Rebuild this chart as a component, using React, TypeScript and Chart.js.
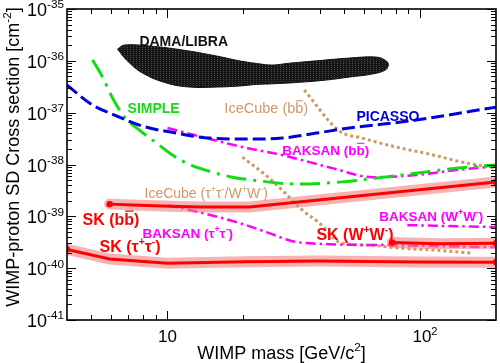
import { useEffect, useRef } from 'react';
import { Chart, registerables } from 'chart.js';

Chart.register(...registerables);

const FONT = '"Liberation Sans", Arial, Helvetica, sans-serif';

// ---- axes ----
const massMin = 4;
const massMax = 200;
const sigmaMin = 1e-41;
const sigmaMax = 1e-35;
const yTickExponents = [-41, -40, -39, -38, -37, -36, -35];
const xMajorTicks = [10, 100];
const xTickLabels = ['10', '10^{2}'];
const xMinorTicks = [5, 6, 7, 8, 9, 20, 30, 40, 50, 60, 70, 80, 90];
const xTitle = 'WIMP mass [GeV/c^{2}]';
const yTitle = 'WIMP-proton SD Cross section [cm^{-2}]';

// ---- data (mass in GeV/c^2, cross section in cm^2) ----
const damaMass = [6.34, 6.76, 8.49, 11.47, 15.63, 19.27, 22.5, 26.0, 30.4, 38.9, 52.5, 67.2, 73.6, 74.9, 72.9, 64.7, 52.5, 42.6, 33.3, 26.0, 22.5, 19.27, 15.63, 12.22, 9.91, 7.96, 6.88, 6.34];
const damaSigma = [1.69e-36, 2.02e-36, 1.93e-36, 1.62e-36, 1.24e-36, 1.0e-36, 8.9e-37, 8.3e-37, 9.0e-37, 1.0e-36, 1.13e-36, 1.18e-36, 9.9e-37, 8.3e-37, 6.64e-37, 5.56e-37, 4.86e-37, 4.26e-37, 3.85e-37, 3.6e-37, 3.5e-37, 3.27e-37, 3.12e-37, 3.12e-37, 3.73e-37, 5.81e-37, 1.035e-36, 1.69e-36];

const picassoMass = [4.0, 5.05, 6.17, 7.96, 10.85, 14.66, 21.7, 28.5, 38.9, 52.5, 96.6, 200];
const picassoSigma = [3.4e-37, 1.4e-37, 9.0e-38, 5.5e-38, 4.04e-38, 3.23e-38, 3.09e-38, 3.23e-38, 4.04e-38, 5.05e-38, 7.2e-38, 1.28e-37];

const simpleMass = [5.05, 5.53, 6.06, 6.76, 7.74, 9.05, 10.47, 12.4, 15.07, 18.1, 21.7, 33.3, 48.0, 67.1, 96.6, 139, 200];
const simpleSigma = [1.035e-36, 4.86e-37, 1.91e-37, 8.2e-38, 4.6e-38, 2.59e-38, 1.52e-38, 9.7e-39, 7.1e-39, 5.7e-39, 5.0e-39, 4.19e-39, 4.57e-39, 5.46e-39, 6.8e-39, 8.5e-39, 9.8e-39];

const baksanBBMass = [10, 13.75, 19.8, 28.5, 45.0, 64.7, 96.6, 139, 200];
const baksanBBSigma = [5.05e-38, 3.38e-38, 2.17e-38, 1.52e-38, 8.5e-39, 5.7e-39, 6.24e-39, 7.8e-39, 9.3e-39];

const baksanTauMass = [10, 13.4, 19.3, 25.3, 31.2, 43.7, 75.6, 119, 200];
const baksanTauSigma = [1.64e-39, 1.2e-39, 7.4e-40, 4.74e-40, 3.32e-40, 2.9e-40, 2.78e-40, 2.66e-40, 2.54e-40];

const baksanWWMass = [89.1, 130, 200];
const baksanWWSigma = [6.76e-40, 6.5e-40, 6.2e-40];

const iceBBMass = [34.8, 48.0, 59.1, 80.5, 108.8, 147, 200];
const iceBBSigma = [2.73e-37, 4.41e-38, 3.23e-38, 2.17e-38, 1.59e-38, 1.11e-38, 8.5e-39];

const iceTauMass = [19.8, 25.3, 29.0, 34.2, 40.0, 48.8, 63.0, 82.8, 116, 161];
const iceTauSigma = [1.39e-38, 5.46e-39, 2.93e-39, 1.32e-39, 7.4e-40, 3.04e-40, 2.78e-40, 2.43e-40, 2.22e-40, 1.95e-40];

const skBBMass = [5.9, 7.74, 10.2, 13.4, 21.1, 200];
const skBBSigma = [1.72e-39, 1.64e-39, 1.57e-39, 1.51e-39, 1.51e-39, 4.6e-39];

const skTauMass = [4.0, 5.9, 10.0, 20.0, 40.0, 100, 200];
const skTauSigma = [2.3e-40, 1.5e-40, 1.25e-40, 1.33e-40, 1.38e-40, 1.32e-40, 1.3e-40];

const skWWMass = [77.6, 119, 200];
const skWWSigma = [3.12e-40, 2.95e-40, 3.04e-40];

// ---- text labels on the plot ----
const labelTexts = ['DAMA/LIBRA', 'SIMPLE', 'IceCube (b!{b})', 'PICASSO', 'BAKSAN (b!{b})', 'IceCube (τ^{+}τ^{-}/W^{+}W^{-})', 'SK (b!{b})', 'SK (τ^{+}τ^{-})', 'BAKSAN (τ^{+}τ^{-})', 'SK (W^{+}W^{-})', 'BAKSAN (W^{+}W^{-})'];
const labelMass = [7.74, 6.95, 16.8, 56.0, 28.5, 8.11, 4.61, 5.38, 7.96, 38.9, 69.0];
const labelSigma = [2.41e-36, 1.23e-37, 1.23e-37, 8.6e-38, 1.9e-38, 2.81e-39, 8.83e-40, 2.66e-40, 4.74e-40, 4.53e-40, 1.01e-39];
const labelColors = ['#111111', '#11dd11', '#cd9966', '#0000dd', '#ff00ff', '#cd9966', '#ff0000', '#ff0000', '#ff00ff', '#ff0000', '#ff00ff'];
const labelSizes = [14, 14, 14.5, 14, 13.5, 14, 16, 16, 13.5, 16, 13.5];
const labelBold = [true, true, false, true, true, false, true, true, true, true, true];

const zip = (m: number[], s: number[]) => m.map((x, i) => ({ x, y: s[i] }));

function fontOf(size: number, bold: boolean) {
  return `${bold ? 'bold ' : ''}${size}px ${FONT}`;
}

type Seg = { t: string; k: string };
function parseRich(s: string): Seg[] {
  const out: Seg[] = [];
  let buf = '';
  let i = 0;
  while (i < s.length) {
    const c = s[i];
    if ((c === '^' || c === '!') && s[i + 1] === '{') {
      if (buf) { out.push({ t: buf, k: '' }); buf = ''; }
      const j = s.indexOf('}', i + 2);
      out.push({ t: s.slice(i + 2, j), k: c });
      i = j + 1;
    } else {
      buf += c;
      i++;
    }
  }
  if (buf) out.push({ t: buf, k: '' });
  return out;
}

function drawRich(ctx: CanvasRenderingContext2D, s: string, x: number, y: number, size: number, bold: boolean, color: string, align: string) {
  const segs = parseRich(s);
  let w = 0;
  for (const sg of segs) {
    ctx.font = fontOf(sg.k === '^' ? size * 0.65 : size, bold);
    w += ctx.measureText(sg.t).width;
  }
  let cx = align === 'left' ? x : align === 'center' ? x - w / 2 : x - w;
  ctx.fillStyle = color;
  ctx.strokeStyle = color;
  ctx.textAlign = 'left';
  ctx.textBaseline = 'alphabetic';
  for (const sg of segs) {
    const sup = sg.k === '^';
    ctx.font = fontOf(sup ? size * 0.65 : size, bold);
    const sw = ctx.measureText(sg.t).width;
    ctx.fillText(sg.t, cx, sup ? y - size * 0.42 : y);
    if (sg.k === '!') {
      ctx.lineWidth = Math.max(1, size * 0.08);
      ctx.setLineDash([]);
      ctx.beginPath();
      ctx.moveTo(cx + size * 0.04, y - size * 0.86);
      ctx.lineTo(cx + sw - size * 0.04, y - size * 0.86);
      ctx.stroke();
    }
    cx += sw;
  }
}

const decorPlugin = {
  id: 'decor',
  afterDatasetsDraw(chart: any) {
    const { ctx, scales } = chart;
    const xs = scales.x;
    const ys = scales.y;
    ctx.save();
    labelTexts.forEach((t, i) => {
      const px = xs.getPixelForValue(labelMass[i]);
      const py = ys.getPixelForValue(labelSigma[i]);
      drawRich(ctx, t, px, py + labelSizes[i] * 0.36, labelSizes[i], labelBold[i], labelColors[i], 'left');
    });
    ctx.restore();
  },
  afterDraw(chart: any) {
    const { ctx, chartArea: a, scales } = chart;
    const xs = scales.x;
    const ys = scales.y;
    ctx.save();
    ctx.setLineDash([]);
    ctx.strokeStyle = '#000';
    const seg = (x1: number, y1: number, x2: number, y2: number) => {
      ctx.beginPath();
      ctx.moveTo(x1, y1);
      ctx.lineTo(x2, y2);
      ctx.stroke();
    };
    ctx.lineWidth = 1;
    // y ticks
    for (const e of yTickExponents) {
      for (let k = 1; k <= 9; k++) {
        const v = k * Math.pow(10, e);
        if (v > sigmaMax * 1.001) break;
        const py = Math.round(ys.getPixelForValue(v)) + 0.5;
        const len = k === 1 ? 9 : 5;
        seg(a.left, py, a.left + len, py);
        seg(a.right, py, a.right - len, py);
      }
    }
    // x ticks
    const xt = [...xMajorTicks.map((v) => [v, 9]), ...xMinorTicks.map((v) => [v, 5])];
    for (const [v, len] of xt) {
      const px = Math.round(xs.getPixelForValue(v)) + 0.5;
      seg(px, a.bottom, px, a.bottom - len);
      seg(px, a.top, px, a.top + len);
    }
    // frame
    ctx.lineWidth = 1.6;
    ctx.strokeRect(a.left, a.top, a.right - a.left, a.bottom - a.top);
    // y tick labels
    for (const e of yTickExponents) {
      const py = ys.getPixelForValue(Math.pow(10, e));
      drawRich(ctx, `10^{${e}}`, a.left - 3, py + 7, 18, false, '#000', 'right');
    }
    // x tick labels
    xMajorTicks.forEach((v, i) => {
      const px = xs.getPixelForValue(v);
      const off = xTickLabels[i].includes('^') ? 5 : 0;
      drawRich(ctx, xTickLabels[i], px + off, a.bottom + 22, 17, false, '#000', 'center');
    });
    // titles
    drawRich(ctx, xTitle, (a.left + a.right) / 2, a.bottom + 39, 18, false, '#000', 'center');
    ctx.translate(12.5, 157);
    ctx.rotate(-Math.PI / 2);
    drawRich(ctx, yTitle, 0, 6.5, 18, false, '#000', 'center');
    ctx.restore();
  },
};

export default function App() {
  const ref = useRef<HTMLCanvasElement>(null);
  useEffect(() => {
    const canvas = ref.current!;
    const pc = document.createElement('canvas');
    pc.width = 3;
    pc.height = 2;
    const pctx = pc.getContext('2d')!;
    pctx.fillStyle = '#161616';
    pctx.fillRect(0, 0, 3, 2);
    pctx.fillStyle = '#4a4a4a';
    pctx.fillRect(1, 1, 1, 1);
    const pattern = canvas.getContext('2d')!.createPattern(pc, 'repeat');

    const bandColor = 'rgba(242,128,128,0.6)';
    const smooth = { cubicInterpolationMode: 'monotone' as const, pointRadius: 0 };
    const endDot = (c: any) => (c.dataIndex === 0 || c.dataIndex === c.dataset.data.length - 1 ? 3.2 : 0);

    const chart = new Chart(canvas, {
      type: 'line',
      data: {
        datasets: [
          { label: 'DAMA/LIBRA', data: zip(damaMass, damaSigma), borderColor: '#111', borderWidth: 1, backgroundColor: pattern as any, fill: 'shape' as any, tension: 0.4, pointRadius: 0, order: 20 },
          { label: 'BAKSAN (bb)', data: zip(baksanBBMass, baksanBBSigma), borderColor: '#ff00ff', borderWidth: 2.5, borderDash: [10, 4, 2.5, 4], ...smooth, order: 12 },
          { label: 'BAKSAN (tau)', data: zip(baksanTauMass, baksanTauSigma), borderColor: '#ff00ff', borderWidth: 2.5, borderDash: [10, 4, 2.5, 4], ...smooth, order: 12 },
          { label: 'BAKSAN (WW)', data: zip(baksanWWMass, baksanWWSigma), borderColor: '#ff00ff', borderWidth: 2.5, borderDash: [10, 4, 2.5, 4], ...smooth, order: 12 },
          { label: 'IceCube (bb)', data: zip(iceBBMass, iceBBSigma), borderColor: '#cd9966', borderWidth: 3, borderDash: [3, 3], ...smooth, order: 12 },
          { label: 'IceCube (tau/WW)', data: zip(iceTauMass, iceTauSigma), borderColor: '#cd9966', borderWidth: 3, borderDash: [3, 3], ...smooth, order: 12 },
          { label: 'SK (bb) band', data: zip(skBBMass, skBBSigma), borderColor: bandColor, borderWidth: 11, borderCapStyle: 'round', pointRadius: 0, order: 10 },
          { label: 'SK (tau) band', data: zip(skTauMass, skTauSigma), borderColor: bandColor, borderWidth: 11, borderCapStyle: 'round', pointRadius: 0, order: 10 },
          { label: 'SK (WW) band', data: zip(skWWMass, skWWSigma), borderColor: bandColor, borderWidth: 11, borderCapStyle: 'round', pointRadius: 0, order: 10 },
          { label: 'PICASSO', data: zip(picassoMass, picassoSigma), borderColor: '#0000dd', borderWidth: 3, borderDash: [13, 5], ...smooth, order: 8 },
          { label: 'SIMPLE', data: zip(simpleMass, simpleSigma), borderColor: '#11dd11', borderWidth: 3, borderDash: [20, 7, 3, 7], ...smooth, order: 8 },
          { label: 'SK (bb)', data: zip(skBBMass, skBBSigma), borderColor: '#ff0000', backgroundColor: '#ff0000', borderWidth: 3, pointRadius: endDot, pointBorderWidth: 0, order: 5 },
          { label: 'SK (tau)', data: zip(skTauMass, skTauSigma), borderColor: '#ff0000', backgroundColor: '#ff0000', borderWidth: 3, pointRadius: endDot, pointBorderWidth: 0, order: 5 },
          { label: 'SK (WW)', data: zip(skWWMass, skWWSigma), borderColor: '#ff0000', backgroundColor: '#ff0000', borderWidth: 3, pointRadius: endDot, pointBorderWidth: 0, order: 5 },
        ] as any,
      },
      options: {
        animation: false,
        responsive: true,
        maintainAspectRatio: false,
        devicePixelRatio: 1,
        layout: { padding: { left: 67, right: 2, top: 9, bottom: 43 } },
        plugins: { legend: { display: false }, tooltip: { enabled: false } },
        events: [],
        scales: {
          x: { type: 'logarithmic', min: massMin, max: massMax, display: false },
          y: { type: 'logarithmic', min: sigmaMin, max: sigmaMax, display: false },
        },
      },
      plugins: [decorPlugin],
    });
    return () => chart.destroy();
  }, []);
  return (
    <div style={{ position: 'fixed', left: 0, top: 0, width: 500, height: 363, background: '#fff' }}>
      <canvas ref={ref} />
    </div>
  );
}
